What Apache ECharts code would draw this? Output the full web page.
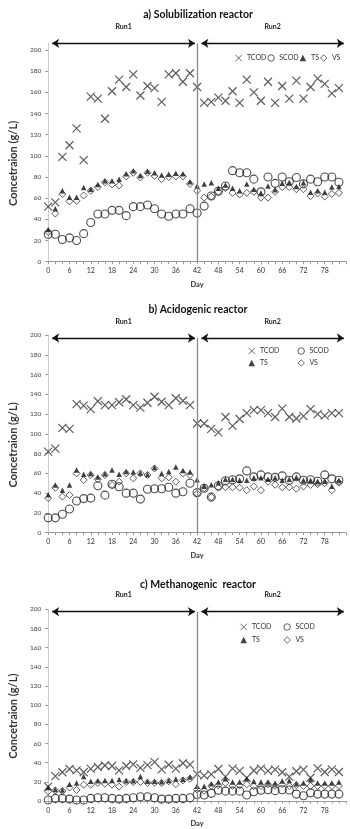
<!DOCTYPE html>
<html>
<head>
<meta charset="utf-8">
<script src="https://cdn.jsdelivr.net/npm/echarts@6/dist/echarts.min.js"></script>
<style>html,body{margin:0;padding:0;background:#fff}#c{width:350px;height:829px}</style>
</head>
<body>
<div id="c"></div>
<script>
// ---------- data ----------
const days = [0,2,4,6,8,10,12,14,16,18,20,22,24,26,28,30,32,34,36,38,40,42,44,46,48,50,52,54,56,58,60,62,64,66,68,70,72,74,76,78,80,82];
const xTickLabels = [0,6,12,18,24,30,36,42,48,54,60,66,72,78];
const yTickLabels = [0,20,40,60,80,100,120,140,160,180,200];

// a) Solubilization reactor
const aTCOD = [52,56,99,110,126,96,156,154,135,161,172,165,177,157,166,164,151,177,178,170,178,165,150,151,155,152,161,150,172,160,152,170,150,166,154,171,154,165,173,168,159,164];
const aSCOD = [26,26,21,22.5,20,26.5,37,45,45,48.5,48.5,43.5,52,52,53.5,50,45,43,45,45,50,46,52.5,62,66.5,71.5,86,84,84,78,66,80,74,80,75.5,79.5,73.5,78,75.5,80,80,75];
const aTS   = [30.5,50,67,61,61,70,68.5,73,76.5,76.5,78,83,86,81.5,85.5,84,82,82.5,83.5,83,75.5,71.5,73.5,74.5,69.5,72.5,69.5,67,73.5,68.5,65,71.5,68,74,75,71,74.5,65.5,67,65.5,70.5,71];
const aVS   = [28,45.5,64,57,57.5,62.5,67,70.5,75,73,72,80.5,84,79.5,84,81,78,80,80.5,80.5,73.5,67,60.5,61.5,66,69.5,65,63.5,65,66,60.5,60.5,66,70.5,70.5,68.5,68.5,62,64.5,61.5,64,65];

// b) Acidogenic reactor
const bTCOD = [82,85,106,105,130,128.5,125,133,129,129,132,135,129,126.5,131.5,137.5,132.5,129,136,133.5,129,110.5,110.5,105,101.5,117,108,115,121,124,124,121,117,125.5,117,115.5,118,125,120,118.5,121,121];
const bSCOD = [15,15,18.6,24,32,34.5,35,47.5,38,49,46.5,40,40,34,44,44.5,44.5,46,40,41.5,50,40.5,45,36,47.5,52.5,53.5,54.5,62.5,56.5,58.5,56.5,56,57.5,53,56.5,53,53.5,52,58.5,54.5,53];
const bTS   = [38.5,48.3,43,48.3,63.4,59.2,60,56.3,59.7,63.4,59.2,62,61.5,60.5,59,66,60,62,66.5,63,61.5,53.5,47,48.5,50.5,54,54,53,53,55.5,55.5,54,55.5,53,54,56,53,53,52,52,47,53];
const bVS   = [35,45.5,36.5,38,60,53.3,58.4,54,58.4,48.3,51.6,60,55,60,58.4,65,55,56,51.6,60,58.4,39.5,45,36,45.5,46,46,45.5,43,46.8,43,51.6,48.5,46,46,44.5,46.8,48.3,49,50,43,50.6];

// c) Methanogenic reactor
const cTCOD = [15,26,30,33.4,32,30,33.5,35.5,37,36.5,32,36.5,38.2,34.5,37.5,40.5,33,37.8,33.8,39.4,38,28,26.5,27.7,33.4,25.5,33.8,31.5,24.2,31.8,33.8,31.5,32.8,30,25.5,31,32.8,24.3,34,30.3,33,30.3];
const cSCOD = [1,2.7,2.7,2,1,1,2.7,3.4,3.4,2.7,2,2.7,3.4,4.4,4.4,3.4,2,2,2.7,2.7,3.4,6.8,6.2,8,11.3,10.3,10.3,10.3,6.2,9.6,11.3,11.8,10.8,11.8,11.5,7.2,5.5,8.5,7.2,7.2,7.2,7.2];
const cTS   = [14,12,11.5,17.5,18.8,25.5,20.5,21,21.5,21.5,22.5,21,21,25.6,20.5,20.5,20,21.5,23,22.6,25,15.4,15.4,18,19.8,23.2,19.8,19.8,23.2,20.5,19.8,19.8,18.8,20.9,21.5,18,18.8,22.2,18.8,18.8,18.8,19.8];
const cVS   = [10,11,10.5,14,11.5,17,17,18.8,18,17,15,19.8,19.8,19.8,19,19,18.8,20.5,17.5,21.5,23.2,12,10.6,15.7,16.4,18.8,15.7,16.4,17.4,15.4,15.7,17.4,15.7,17.4,15.7,16.4,15.7,15.7,15.7,15.7,15.7,15.7];

const panelTitles = ['a) Solubilization reactor', 'b) Acidogenic reactor', 'c) Methanogenic  reactor'];
const runLabels = ['Run1', 'Run2'];
const seriesNames = ['TCOD', 'SCOD', 'TS', 'VS'];
const runSplitDay = 42;
const run1Span = [1.1, 41.4];
const run2Span = [43.2, 83.4];
const arrowLevel = [206.3, 197, 197.5];
const yMax = [206.5, 200, 200];
const xMax = 84;

// ---------- layout ----------
const FONT = 'Lato, "Open Sans", sans-serif';
const grids = [
  {left: 35, width: 311, top: 43.1, height: 218.6},
  {left: 35, width: 311, top: 335, height: 197.7},
  {left: 35, width: 311, top: 609.3, height: 195}
];
const titleTops = [4, 299, 574];

const panels = [
  [aTCOD, aSCOD, aTS, aVS],
  [bTCOD, bSCOD, bTS, bVS],
  [cTCOD, cSCOD, cTS, cVS]
];

const styles = {
  TCOD: {symbol: 'path://M0,0L10,10M10,0L0,10', symbolSize: 8, itemStyle: {color: 'rgba(0,0,0,0)', borderColor: '#333', borderWidth: 1.2}},
  SCOD: {symbol: 'circle', symbolSize: 8, itemStyle: {color: 'rgba(0,0,0,0)', borderColor: '#222', borderWidth: 1.1}},
  TS:   {symbol: 'triangle', symbolSize: 5.5, itemStyle: {color: '#111', borderWidth: 0}},
  VS:   {symbol: 'diamond', symbolSize: 7, itemStyle: {color: 'rgba(0,0,0,0)', borderColor: '#333', borderWidth: 1}}
};

const xAxes = [], yAxes = [], series = [], titles = [];
grids.forEach((g, i) => {
  xAxes.push({
    gridIndex: i, type: 'value', min: 0, max: xMax, interval: 2,
    name: 'Day', nameLocation: 'middle', nameGap: 19,
    nameTextStyle: {fontFamily: FONT, fontSize: 7.5, fontWeight: 'bold', color: '#333'},
    axisLine: {show: true, lineStyle: {color: '#999', width: 1}},
    axisTick: {show: true, length: 2.5, lineStyle: {color: '#999'}},
    axisLabel: {customValues: xTickLabels, fontFamily: FONT, fontSize: 7, color: '#333', margin: 6},
    splitLine: {show: false}
  });
  yAxes.push({
    gridIndex: i, type: 'value', min: 0, max: yMax[i], interval: 20,
    name: 'Concetraion (g/L)', nameLocation: 'middle', nameGap: 24, nameRotate: 90,
    nameTextStyle: {fontFamily: FONT, fontSize: 11, fontWeight: 'bold', color: '#333', padding: [0, 22, 0, 0]},
    axisLine: {show: true, lineStyle: {color: '#ccc', width: 1}},
    axisTick: {show: true, length: 3, customValues: yTickLabels, lineStyle: {color: '#999'}},
    axisLabel: {customValues: yTickLabels, fontFamily: FONT, fontSize: 6.5, color: '#444', margin: 7},
    splitLine: {show: false}
  });
  titles.push({
    text: panelTitles[i], left: 193, top: titleTops[i], textAlign: 'center',
    textStyle: {fontFamily: FONT, fontSize: 10.5, fontWeight: 'bold', color: '#111'}
  });
  const vals = panels[i];
  seriesNames.forEach((nm, k) => {
    const s = {
      name: nm, type: 'scatter', xAxisIndex: i, yAxisIndex: i,
      data: days.map((d, j) => [d, vals[k][j]]),
      symbol: styles[nm].symbol, symbolSize: styles[nm].symbolSize,
      itemStyle: styles[nm].itemStyle, silent: true, z: 3
    };
    if (k === 0) {
      const runLabel = (txt) => ({show: true, formatter: txt, position: 'insideMiddleTop', distance: 13,
        fontFamily: FONT, fontSize: 7, fontWeight: 'bold', color: '#222'});
      s.markLine = {
        silent: true, animation: false, symbol: ['arrow', 'arrow'], symbolSize: 7,
        lineStyle: {color: '#111', width: 1.4, type: 'solid'},
        data: [
          [{coord: [run1Span[0], arrowLevel[i]], label: runLabel(runLabels[0])}, {coord: [run1Span[1], arrowLevel[i]]}],
          [{coord: [run2Span[0], arrowLevel[i]], label: runLabel(runLabels[1])}, {coord: [run2Span[1], arrowLevel[i]]}],
          [{coord: [runSplitDay, 0], symbol: 'none', label: {show: false}, lineStyle: {color: '#888', width: 1.3}},
           {coord: [runSplitDay, arrowLevel[i]], symbol: 'none'}]
        ]
      };
    }
    series.push(s);
  });
});

const legendText = {fontFamily: FONT, fontSize: 7, color: '#333', lineHeight: 8};
const legendCommon = {itemWidth: 6.5, itemHeight: 6.5, padding: 0, selectedMode: false,
  itemStyle: {borderWidth: 0.9}};
const legends = [
  Object.assign({}, legendCommon, {orient: 'horizontal', left: 235, top: 54, width: 115, itemGap: 1,
    textStyle: legendText, data: seriesNames}),
  Object.assign({}, legendCommon, {orient: 'vertical', left: 248, top: 347, height: 24, itemGap: 4,
    textStyle: Object.assign({}, legendText, {width: 33.5}), data: ['TCOD', 'TS', 'SCOD', 'VS']}),
  Object.assign({}, legendCommon, {orient: 'vertical', left: 240, top: 623, height: 26, itemGap: 5,
    textStyle: Object.assign({}, legendText, {width: 26.5}), data: ['TCOD', 'TS', 'SCOD', 'VS']})
];

const chart = echarts.init(document.getElementById('c'), null, {renderer: 'canvas'});
chart.setOption({
  animation: false,
  backgroundColor: '#fff',
  title: titles,
  legend: legends,
  grid: grids,
  xAxis: xAxes,
  yAxis: yAxes,
  series: series
});
</script>
</body>
</html>
